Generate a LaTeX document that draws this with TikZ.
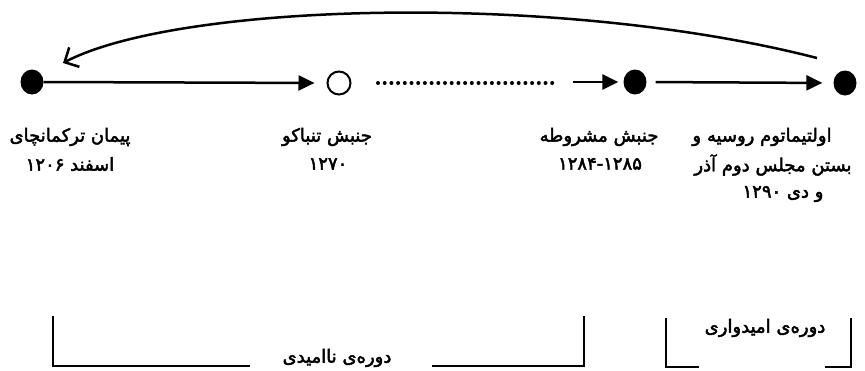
\documentclass[tikz,border=0pt]{standalone}
\usepackage{fontspec}
\usetikzlibrary{arrows.meta,shapes.geometric}
\newfontfamily\fafont[Script=Arabic,FakeBold=2.5]{DejaVu Sans}
\TeXXeTstate=1
\tikzset{
  dotfill/.style={ellipse,fill=black,minimum width=23pt,minimum height=25pt,inner sep=0pt},
  dotopen/.style={circle,draw=black,line width=2pt,minimum size=23pt,inner sep=0pt},
  mainarrow/.style={line width=2.5pt,-{Triangle[length=16pt,width=15pt]}},
  dotline/.style={line width=4pt,line cap=round,dash pattern=on 0pt off 6.7pt},
  backarrow/.style={line width=2.5pt,-{Straight Barb[length=11pt,width=22pt,line width=2.5pt]}},
  bracketline/.style={line width=2pt},
  lbl/.style={font=\fafont\fontsize{18}{21}\selectfont,inner sep=0pt,anchor=center}
}
\begin{document}
\begin{tikzpicture}[x=1pt,y=-1pt]
\useasboundingbox (0,0) rectangle (865,370);
% dots
\node[dotfill] (d1) at (32,82) {};
\node[dotopen] (d2) at (339,83) {};
\node[dotfill] (d3) at (635,82) {};
\node[dotfill] (d4) at (845,83) {};
\coordinate (ds) at (378,83);
\coordinate (de) at (557,83);
\coordinate (as) at (573,82);
\coordinate (cs) at (817,58);
\coordinate (ce) at (63,63);
% connectors
\draw[mainarrow,shorten >=12pt] (d1.east) -- (d2.west);
\draw[dotline] (ds) -- (de);
\draw[mainarrow,shorten >=5pt] (as) -- (d3.west);
\draw[mainarrow,shorten <=9pt,shorten >=11pt] (d3.east) -- (d4.west);
\draw[backarrow] (cs) .. controls (560,-8) and (180,2) .. (ce);
% labels
\node[lbl] (t1a) at (70,137) {\beginR پیمان ترکمانچای\endR};
\node[lbl] (t1b) at (70,164) {\beginR اسفند ۱۲۰۶\endR};
\node[lbl] (t2a) at (327,137) {\beginR جنبش تنباکو\endR};
\node[lbl] (t2b) at (328,164) {\beginR ۱۲۷۰\endR};
\node[lbl] (t3a) at (599,137) {\beginR جنبش مشروطه\endR};
\node[lbl] (t3b) at (600,164) {\beginL ۱۲۸۴-۱۲۸۵\endL};
\node[lbl] (t4a) at (762,137) {\beginR اولتیماتوم روسیه و\endR};
\node[lbl] (t4b) at (773,165) {\beginR بستن مجلس دوم آذر\endR};
\node[lbl] (t4c) at (783,194) {\beginR و دی ۱۲۹۰\endR};
% brackets
\coordinate (b1t) at (53,316);
\coordinate (b1c) at (53,366);
\coordinate (b1e) at (250,366);
\draw[bracketline] (b1t) -- (b1c) -- (b1e);
\coordinate (b2s) at (432,366);
\coordinate (b2c) at (584,366);
\coordinate (b2t) at (584,316);
\draw[bracketline] (b2s) -- (b2c) -- (b2t);
\coordinate (b3t) at (666,318);
\coordinate (b3c) at (666,367);
\coordinate (b3e) at (699,367);
\draw[bracketline] (b3t) -- (b3c) -- (b3e);
\coordinate (b4s) at (825,367);
\coordinate (b4c) at (851,367);
\coordinate (b4t) at (851,318);
\draw[bracketline] (b4s) -- (b4c) -- (b4t);
\node[lbl] (p1) at (337,358) {\beginR دوره‌ی ناامیدی\endR};
\node[lbl] (p2) at (765,328) {\beginR دوره‌ی امیدواری\endR};
\end{tikzpicture}
\end{document}
